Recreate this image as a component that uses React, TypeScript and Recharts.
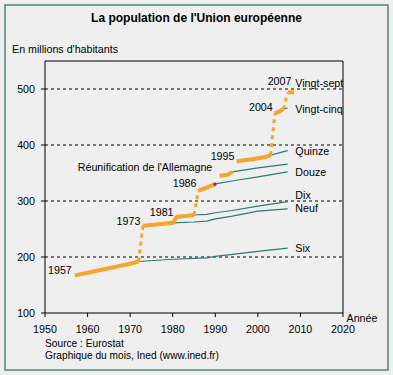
import React from 'react';
import { LineChart, Line, XAxis, YAxis, ReferenceLine, ReferenceDot } from 'recharts';

const xTicks = [1950, 1960, 1970, 1980, 1990, 2000, 2010, 2020];
const yTicks = [100, 200, 300, 400, 500];
const gridValues = [200, 300, 400, 500];
const xDomain = [1950, 2020];
const yDomain = [100, 550];

// Total EU population (orange), per membership period
const totalSix = [[1957, 167], [1960, 172], [1965, 180], [1970, 188], [1972, 192]];
const totalNineTen = [[1973, 256], [1976, 258], [1980, 261], [1981, 272], [1983, 273], [1985, 275]];
const totalTwelve = [[1986, 318], [1988, 324], [1990, 330]];
const totalTwelveUnified = [[1991, 345], [1993, 347], [1994, 352]];
const totalFifteen = [[1995, 371], [1999, 375], [2002, 379], [2003, 382]];
const totalTwentyFive = [[2004, 456], [2006, 464]];
const totalTwentySeven = [[2007, 494], [2008.5, 494]];
// enlargement jumps (dashed)
const jump1973 = [[1972, 192], [1973, 256]];
const jump1986 = [[1985, 275], [1986, 318]];
const jump2004 = [[2003, 382], [2004, 456]];
const jump2007 = [[2006, 464], [2007, 494]];
const reunification = [[1989.6, 329], [1990.2, 331]];

// constant-membership subsets (teal)
const six = [[1972, 192], [1980, 196], [1988, 198.5], [1990, 201], [2000, 210], [2007, 216]];
const neuf = [[1980, 261], [1985, 262.5], [1988, 264], [1990, 268], [1994, 273], [2000, 282], [2007, 286]];
const dix = [[1985, 275], [1988, 276], [1990, 279], [1994, 283], [2000, 291], [2007, 299]];
const douze = [[1990, 330.5], [1995, 337], [2000, 343], [2007, 352]];
const douzeUnified = [[1994, 352], [2000, 359], [2007, 366]];
const quinze = [[2003, 382], [2007, 390]];
const vingtCinq = [[2006, 464], [2007, 466]];

const yearLabels = [
  { text: '1957', x: 1953.5, y: 176 },
  { text: '1973', x: 1969.6, y: 265 },
  { text: '1981', x: 1977.4, y: 280 },
  { text: '1986', x: 1982.8, y: 332 },
  { text: '1995', x: 1991.7, y: 380 },
  { text: '2004', x: 2000.7, y: 468 },
  { text: '2007', x: 2005.1, y: 514 },
];
const reunifLabel = { text: "Réunification de l'Allemagne", x: 1973.5, y: 361 };
const seriesNames = [
  { text: 'Vingt-sept', y: 511 },
  { text: 'Vingt-cinq', y: 464 },
  { text: 'Quinze', y: 390 },
  { text: 'Douze', y: 352 },
  { text: 'Dix', y: 311 },
  { text: 'Neuf', y: 287.5 },
  { text: 'Six', y: 216 },
];
const nameX = 2008.8;

const ORANGE = '#f4a52a';
const TEAL = '#2e7a72';
const PURPLE = '#a0207f';
const FONT = '"Liberation Sans", Arial, sans-serif';
const FS = 10.7;

const pts = (a: number[][]) => a.map(([x, y]) => ({ x, y }));

const textShape = (text: string, anchor: string) => (p: any) => (
  <text x={p.cx} y={p.cy} textAnchor={anchor} dominantBaseline="central" fontFamily={FONT} fontSize={FS} fill="#000">
    {text}
  </text>
);

export default function App() {
  const solidOrange = [totalSix, totalNineTen, totalTwelve, totalTwelveUnified, totalFifteen, totalTwentyFive, totalTwentySeven];
  const dashedOrange = [jump1973, jump1986, jump2004, jump2007];
  const tealLines = [six, neuf, dix, douze, douzeUnified, quinze, vingtCinq];
  return (
    <div style={{ position: 'absolute', left: 0, top: 0, width: 393, height: 375, background: '#efefef', fontFamily: FONT }}>
      <div style={{ position: 'absolute', left: 0, top: 0 }}>
        <LineChart width={393} height={375} margin={{ top: 61, right: 50, left: 5, bottom: 32 }}>
          <XAxis
            type="number"
            dataKey="x"
            domain={xDomain}
            ticks={xTicks}
            allowDataOverflow
            stroke="#000"
            tickSize={4}
            tickMargin={8}
            height={30}
            tick={{ fill: '#000', fontSize: FS, fontFamily: FONT }}
            tickLine={{ stroke: '#000' }}
            axisLine={{ stroke: '#000' }}
          />
          <YAxis
            type="number"
            dataKey="y"
            domain={yDomain}
            ticks={yTicks}
            allowDataOverflow
            width={40}
            tickSize={4}
            tickMargin={6}
            tick={{ fill: '#000', fontSize: FS, fontFamily: FONT }}
            tickLine={{ stroke: '#000' }}
            axisLine={{ stroke: '#000' }}
          />
          {gridValues.map((v) => (
            <ReferenceLine key={'g' + v} y={v} stroke="#000" strokeDasharray="3 3" />
          ))}
          <ReferenceLine y={550} stroke="#000" />
          <ReferenceLine x={2020} stroke="#000" />
          {tealLines.map((d, i) => (
            <Line key={'t' + i} data={pts(d)} dataKey="y" type="linear" stroke={TEAL} strokeWidth={1.2} dot={false} isAnimationActive={false} />
          ))}
          {dashedOrange.map((d, i) => (
            <Line key={'d' + i} data={pts(d)} dataKey="y" type="linear" stroke={ORANGE} strokeWidth={3} strokeDasharray="4 4" dot={false} isAnimationActive={false} />
          ))}
          {solidOrange.map((d, i) => (
            <Line key={'o' + i} data={pts(d)} dataKey="y" type="linear" stroke={ORANGE} strokeWidth={4} dot={false} isAnimationActive={false} />
          ))}
          <Line data={pts(reunification)} dataKey="y" type="linear" stroke={PURPLE} strokeWidth={3} dot={false} isAnimationActive={false} />
          {yearLabels.map((l) => (
            <ReferenceDot key={l.text} x={l.x} y={l.y} r={0} shape={textShape(l.text, 'middle')} />
          ))}
          <ReferenceDot x={reunifLabel.x} y={reunifLabel.y} r={0} shape={textShape(reunifLabel.text, 'middle')} />
          {seriesNames.map((l) => (
            <ReferenceDot key={l.text} x={nameX} y={l.y} r={0} shape={textShape(l.text, 'start')} />
          ))}
        </LineChart>
      </div>
      <svg width={393} height={375} style={{ position: 'absolute', left: 0, top: 0, pointerEvents: 'none' }}>
        <rect x={5} y={5} width={383} height={365} fill="none" stroke="#4f8580" strokeWidth={1.5} />
        <text x={196.5} y={18} textAnchor="middle" dominantBaseline="central" fontFamily={FONT} fontSize={12} fontWeight="bold" fill="#000">
          La population de l'Union européenne
        </text>
        <text x={12} y={48.5} dominantBaseline="central" fontFamily={FONT} fontSize={FS} fill="#000">
          En millions d'habitants
        </text>
        <text x={346.5} y={317.5} dominantBaseline="central" fontFamily={FONT} fontSize={FS} fill="#000">
          Année
        </text>
        <text x={45} y={343.5} dominantBaseline="central" fontFamily={FONT} fontSize={FS - 0.5} fill="#000">
          Source : Eurostat
        </text>
        <text x={45} y={355.5} dominantBaseline="central" fontFamily={FONT} fontSize={FS - 0.5} fill="#000">
          Graphique du mois, Ined (www.ined.fr)
        </text>
      </svg>
    </div>
  );
}
